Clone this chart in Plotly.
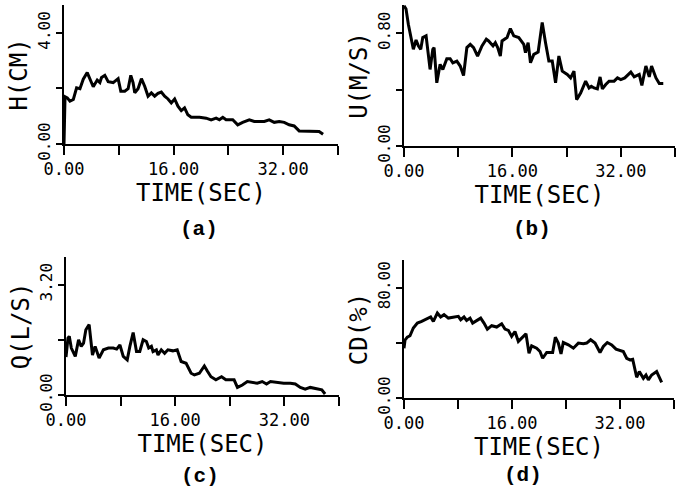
import plotly.graph_objects as go

# ---------------- data ----------------
t_h = [0.0, 0.15, 0.48, 0.87, 1.36, 1.84, 2.33, 2.81, 3.39, 3.88, 4.27, 4.85, 5.24, 5.48, 5.96, 6.45,
       7.18, 7.90, 8.29, 8.87, 9.36, 9.75, 10.08, 10.33, 10.81, 11.30, 11.78, 12.27, 12.75, 13.24,
       13.72, 14.21, 14.69, 15.18, 15.66, 16.15, 16.63, 17.12, 17.60, 18.08, 18.57, 19.78, 20.75,
       21.48, 22.21, 22.69, 23.18, 23.66, 24.63, 25.36, 26.08, 27.05, 27.78, 28.51, 29.24, 29.96,
       30.69, 31.42, 32.15, 32.87, 33.60, 34.33, 35.30, 36.27, 37.24, 37.82]
h_cm = [0.0, 1.70, 1.66, 1.54, 1.60, 2.02, 1.99, 2.33, 2.57, 2.27, 2.06, 2.30, 2.21, 2.39, 2.47, 2.24,
        2.21, 2.35, 1.90, 1.90, 1.99, 2.47, 2.21, 1.84, 1.99, 2.35, 2.08, 1.72, 1.84, 1.72,
        1.82, 1.87, 1.72, 1.62, 1.48, 1.62, 1.36, 1.20, 1.30, 1.05, 0.96, 0.96, 0.93,
        0.87, 0.93, 0.87, 0.96, 0.87, 0.87, 0.69, 0.78, 0.87, 0.81, 0.81, 0.81, 0.87,
        0.78, 0.81, 0.78, 0.69, 0.65, 0.47, 0.47, 0.47, 0.45, 0.35]

t_u = [0.0, 0.30, 0.64, 0.99, 1.38, 1.78, 2.12, 2.47, 2.77, 3.26, 3.60, 3.85, 4.25, 4.44, 4.84, 5.33,
       5.73, 6.32, 6.81, 7.21, 7.80, 8.30, 8.79, 9.28, 9.78, 10.27, 10.86, 11.51, 12.15, 12.49,
       13.14, 13.48, 13.83, 14.22, 14.47, 15.21, 15.70, 16.20, 16.94, 17.68, 17.93, 18.32, 18.67,
       19.16, 19.80, 20.40, 20.89, 21.38, 21.88, 22.37, 22.86, 23.36, 24.10, 24.59, 25.09, 25.48,
       26.07, 26.81, 27.31, 27.65, 28.05, 28.54, 28.94, 29.28, 29.78, 30.27, 31.01, 31.51, 32.00,
       32.59, 33.48, 33.98, 34.72, 35.11, 35.70, 36.20, 36.54, 37.19, 37.68, 38.27]
u_ms = [0.995, 0.971, 0.864, 0.781, 0.686, 0.752, 0.710, 0.686, 0.769, 0.781, 0.662, 0.543, 0.686, 0.698,
        0.448, 0.579, 0.543, 0.619, 0.619, 0.590, 0.602, 0.567, 0.500, 0.698, 0.721, 0.698, 0.638,
        0.710, 0.757, 0.745, 0.710, 0.733, 0.698, 0.638, 0.745, 0.769, 0.833, 0.781, 0.769, 0.721,
        0.662, 0.733, 0.590, 0.650, 0.667, 0.876, 0.733, 0.602, 0.602, 0.448, 0.638, 0.531, 0.507,
        0.483, 0.531, 0.329, 0.376, 0.460, 0.412, 0.424, 0.412, 0.405, 0.490, 0.405, 0.436, 0.460,
        0.460, 0.483, 0.471, 0.483, 0.524, 0.490, 0.507, 0.429, 0.567, 0.490, 0.567, 0.483, 0.443,
        0.443]

t_q = [0.0, 0.15, 0.29, 0.48, 0.78, 1.36, 1.84, 2.23, 2.57, 2.91, 3.39, 3.88, 4.27, 4.85, 5.48, 6.21,
       6.93, 7.42, 7.90, 8.39, 8.97, 9.36, 9.84, 10.33, 10.81, 11.30, 11.78, 12.12, 12.51, 12.75,
       13.24, 13.48, 13.96, 14.45, 14.93, 15.66, 16.29, 16.87, 17.60, 18.33, 18.81, 19.54, 20.27,
       20.75, 21.24, 21.96, 22.79, 23.42, 24.15, 24.63, 25.12, 25.84, 26.57, 27.30, 28.02, 28.75,
       29.38, 29.96, 30.93, 31.90, 32.87, 33.60, 34.33, 35.05, 35.78, 36.75, 37.48, 37.96]
q_ls = [1.10, 1.50, 1.65, 1.70, 1.36, 1.12, 1.60, 1.41, 1.50, 1.89, 2.04, 1.16, 1.41, 1.07, 1.31, 1.36,
        1.36, 1.33, 1.45, 1.12, 1.02, 1.41, 1.81, 1.26, 1.26, 1.60, 1.55, 1.36, 1.41, 1.26,
        1.31, 1.16, 1.31, 1.21, 1.31, 1.28, 1.31, 0.97, 0.92, 0.63, 0.58, 0.63, 0.84,
        0.68, 0.53, 0.44, 0.53, 0.44, 0.44, 0.44, 0.22, 0.29, 0.39, 0.36, 0.34, 0.39,
        0.32, 0.39, 0.36, 0.34, 0.34, 0.32, 0.22, 0.17, 0.22, 0.19, 0.15, 0.03]

t_cd = [0.0, 0.15, 0.49, 0.89, 1.38, 1.98, 2.62, 3.36, 3.95, 4.35, 4.94, 5.43, 5.93, 6.57, 7.31, 8.05,
        8.40, 8.89, 9.28, 9.78, 10.17, 10.77, 11.36, 11.85, 12.35, 12.99, 13.73, 14.47, 14.96,
        15.46, 15.95, 16.44, 16.94, 17.43, 18.07, 18.52, 18.91, 19.65, 20.15, 20.54, 21.14, 22.02,
        22.42, 22.86, 23.26, 23.60, 24.35, 25.09, 25.83, 26.57, 27.06, 27.65, 28.30, 29.04, 29.53,
        30.12, 30.77, 31.41, 32.00, 32.49, 32.99, 33.48, 33.88, 34.22, 34.47, 34.86, 35.46, 35.85,
        36.20, 36.69, 37.43, 37.83, 38.17]
cd_pct = [36.0, 42.0, 44.1, 45.1, 50.7, 54.3, 55.5, 57.2, 58.7, 55.5, 61.6, 58.7, 60.4, 57.9, 58.7, 59.2,
          56.7, 58.7, 56.2, 57.9, 54.3, 56.2, 57.9, 54.3, 49.9, 52.4, 51.4, 53.8, 49.9,
          49.0, 44.6, 48.2, 41.0, 43.4, 46.5, 32.5, 37.8, 36.1, 33.7, 28.8, 33.0, 33.0,
          44.1, 39.8, 32.0, 40.2, 38.5, 36.1, 39.8, 39.3, 39.8, 42.2, 39.8, 33.0, 37.3,
          40.2, 38.5, 35.4, 34.4, 33.7, 28.8, 27.6, 28.1, 20.4, 15.0, 19.2, 14.3, 16.7,
          13.1, 16.7, 19.2, 15.0, 11.4]

x_ticks = [0, 8, 16, 24, 32, 40]
x_tick_text = ["0.00", "", "16.00", "", "32.00", ""]

panels = [
    # (x, y, y title, y ticks, y tick text, y range, panel label)
    (t_h, h_cm, "H(CM)", [0, 2, 4], ["0.00", "", "4.00"], [0, 5], "(a)"),
    (t_u, u_ms, "U(M/S)", [0, 0.4, 0.8], ["0.00", "", "0.80"], [0, 1.0], "(b)"),
    (t_q, q_ls, "Q(L/S)", [0, 1.6, 3.2], ["0.00", "", "3.20"], [0, 4.0], "(c)"),
    (t_cd, cd_pct, "CD(%)", [0, 40, 80], ["0.00", "", "80.00"], [0, 100], "(d)"),
]

W, H = 680, 493
# pixel boxes: (left, right, bottom, top)
boxes = [(64, 338, 144, 5), (404, 675, 146, 5), (66, 339, 395, 257), (404, 674, 398, 260)]
label_pos = [(199, 229), (532, 229), (200, 476), (523, 475)]

MONO = "DejaVu Sans Mono"
fig = go.Figure()
for i, (xs, ys, ytitle, yt, ytt, yr, lab) in enumerate(panels):
    n = "" if i == 0 else str(i + 1)
    l, r, b, t = boxes[i]
    fig.add_trace(go.Scatter(x=xs, y=ys, mode="lines", xaxis="x" + n, yaxis="y" + n,
                             line=dict(color="black", width=3), showlegend=False,
                             hoverinfo="skip"))
    fig.layout["xaxis" + n] = dict(
        domain=[l / W, r / W], range=[0, 40], anchor="y" + n,
        tickvals=x_ticks, ticktext=x_tick_text, ticks="outside", ticklen=9, tickwidth=2,
        tickcolor="black", showline=True, linecolor="black", linewidth=2, showgrid=False,
        zeroline=False, tickfont=dict(family=MONO, size=17, color="black"),
        title=dict(text="TIME(SEC)", font=dict(family=MONO, size=24, color="black"), standoff=4),
        automargin=False, fixedrange=True)
    fig.layout["yaxis" + n] = dict(
        domain=[(H - b) / H, (H - t) / H], range=yr, anchor="x" + n,
        tickvals=yt, ticktext=ytt, ticks="outside", ticklen=6, tickwidth=2, tickangle=-90,
        tickcolor="black", showline=True, linecolor="black", linewidth=2, showgrid=False,
        zeroline=False, tickfont=dict(family=MONO, size=16, color="black"),
        title=dict(text=ytitle, font=dict(family=MONO, size=24, color="black"), standoff=0),
        automargin=False, fixedrange=True)
    fig.add_annotation(text="<b>" + lab + "</b>", x=label_pos[i][0] / W,
                       y=(H - label_pos[i][1]) / H,
                       xref="paper", yref="paper", showarrow=False, xanchor="center",
                       yanchor="middle",
                       font=dict(family="Liberation Mono", size=21, color="black"))

fig.update_layout(width=W, height=H, margin=dict(l=0, r=0, t=0, b=0),
                  paper_bgcolor="white", plot_bgcolor="white")
fig.write_html("out.html", config={"displayModeBar": False})
